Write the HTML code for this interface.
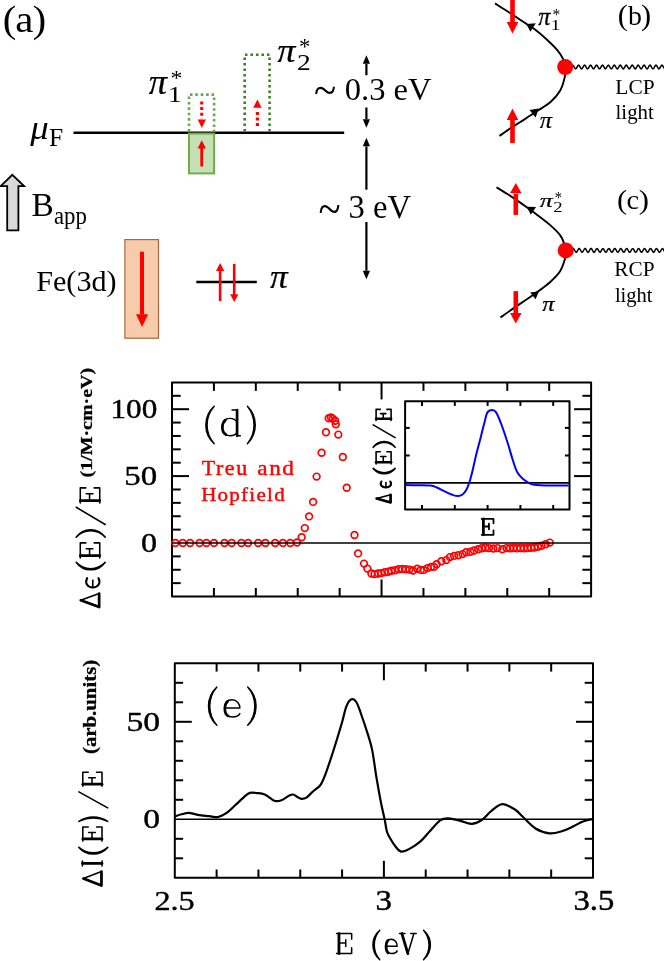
<!DOCTYPE html>
<html><head><meta charset="utf-8"><style>html,body{margin:0;padding:0;background:#fff;}svg{display:block;will-change:transform;}</style></head>
<body><svg width="664" height="961" viewBox="0 0 664 961">
<rect width="664" height="961" fill="#fff"/>
<line x1="73.50" y1="132.70" x2="344.20" y2="132.70" stroke="#000" stroke-width="2.4" />
<path d="M189,131.5 V94.6 H214.1 V131.5" fill="none" stroke="#6aa84f" stroke-width="2.6" stroke-dasharray="2.6 2.8"/>
<path d="M244.7,131.5 V54.7 H269.6 V131.5" fill="none" stroke="#3f7f24" stroke-width="2.6" stroke-dasharray="2.6 2.9"/>
<rect x="189" y="133.6" width="25.1" height="39.8" fill="#c5e0b4" stroke="#70ad47" stroke-width="2"/>
<line x1="201.70" y1="101.50" x2="201.70" y2="118.50" stroke="#ff0000" stroke-width="3" stroke-dasharray="3 2.6"/>
<polygon points="197.70,119.60 205.90,119.60 201.80,127.90" fill="#ff0000"/>
<line x1="201.70" y1="147.00" x2="201.70" y2="166.50" stroke="#ff0000" stroke-width="2.8" />
<polygon points="197.60,148.60 205.90,148.60 201.75,140.30" fill="#ff0000"/>
<line x1="257.40" y1="112.10" x2="257.40" y2="126.00" stroke="#ff0000" stroke-width="3.2" stroke-dasharray="2.8 2.7"/>
<polygon points="253.20,107.80 261.60,107.80 257.40,99.40" fill="#ff0000"/>
<line x1="366.40" y1="75.20" x2="366.40" y2="63.80" stroke="#000" stroke-width="2.2" /><polygon points="362.80,63.80 370.00,63.80 366.40,55.30" fill="#000"/>
<line x1="366.40" y1="107.50" x2="366.40" y2="119.20" stroke="#000" stroke-width="2.2" /><polygon points="362.80,119.20 370.00,119.20 366.40,127.70" fill="#000"/>
<line x1="366.40" y1="189.70" x2="366.40" y2="146.30" stroke="#000" stroke-width="2.2" /><polygon points="362.80,146.30 370.00,146.30 366.40,137.80" fill="#000"/>
<line x1="366.40" y1="222.00" x2="366.40" y2="270.70" stroke="#000" stroke-width="2.2" /><polygon points="362.80,270.70 370.00,270.70 366.40,279.20" fill="#000"/>
<path d="M7.2,230.4 V186.1 H0.7 L12.3,174.8 L24.1,186.1 H18.4 V230.4 Z" fill="#d9d9d9" stroke="#000" stroke-width="1.8" stroke-linejoin="miter"/>
<rect x="124.9" y="239.6" width="33.6" height="98.6" fill="#f8cbad" stroke="#a5683e" stroke-width="1.2"/>
<line x1="142.00" y1="251.70" x2="142.00" y2="314.50" stroke="#ff0000" stroke-width="4.0" />
<polygon points="136.00,314.30 148.10,314.30 142.05,326.90" fill="#ff0000"/>
<line x1="196.30" y1="282.00" x2="256.80" y2="282.00" stroke="#000" stroke-width="2.4" />
<line x1="220.10" y1="270.00" x2="220.10" y2="301.10" stroke="#ff0000" stroke-width="2.6" />
<polygon points="216.00,270.90 224.30,270.90 220.15,263.10" fill="#ff0000"/>
<line x1="234.20" y1="263.90" x2="234.20" y2="295.00" stroke="#ff0000" stroke-width="2.6" />
<polygon points="230.10,294.20 238.40,294.20 234.25,301.90" fill="#ff0000"/>
<path d="M495.00,3.40 C496.67,4.47 501.67,7.65 505.00,9.80 C508.33,11.95 511.45,13.97 515.00,16.30 C518.55,18.63 522.97,21.58 526.30,23.80 C529.63,26.02 531.68,27.07 535.00,29.60 C538.32,32.13 542.52,35.62 546.20,39.00 C549.88,42.38 554.25,46.52 557.10,49.90 C559.95,53.28 561.95,56.45 563.30,59.30 C564.65,62.15 564.88,65.72 565.20,67.00" fill="none" stroke="#000" stroke-width="1.9"/>
<path d="M565.20,67.00 C565.15,68.57 565.73,72.48 564.90,76.40 C564.07,80.32 562.55,86.27 560.20,90.50 C557.85,94.73 554.37,98.55 550.80,101.80 C547.23,105.05 542.35,107.63 538.80,110.00 C535.25,112.37 532.63,113.95 529.50,116.00 C526.37,118.05 523.25,120.22 520.00,122.30 C516.75,124.38 513.42,126.23 510.00,128.50 C506.58,130.77 501.25,134.67 499.50,135.90" fill="none" stroke="#000" stroke-width="1.9"/>
<polygon points="526.30,24.00 535.80,23.30 530.40,31.70" fill="#000"/>
<polygon points="538.80,108.60 529.50,109.90 535.60,117.40" fill="#000"/>
<path d="M571.20,67.00 L571.95,65.65 L572.69,65.10 L573.44,65.67 L574.19,67.02 L574.93,68.36 L575.68,68.90 L576.43,68.32 L577.17,66.96 L577.92,65.62 L578.66,65.10 L579.41,65.70 L580.16,67.07 L580.90,68.39 L581.65,68.90 L582.40,68.28 L583.14,66.91 L583.89,65.59 L584.64,65.10 L585.38,65.73 L586.13,67.11 L586.88,68.42 L587.62,68.90 L588.37,68.25 L589.11,66.87 L589.86,65.56 L590.61,65.11 L591.35,65.76 L592.10,67.15 L592.85,68.45 L593.59,68.89 L594.34,68.22 L595.09,66.83 L595.83,65.54 L596.58,65.11 L597.33,65.80 L598.07,67.20 L598.82,68.48 L599.57,68.89 L600.31,68.19 L601.06,66.78 L601.80,65.51 L602.55,65.11 L603.30,65.83 L604.04,67.24 L604.79,68.50 L605.54,68.88 L606.28,68.15 L607.03,66.74 L607.78,65.48 L608.52,65.12 L609.27,65.87 L610.02,67.28 L610.76,68.53 L611.51,68.88 L612.26,68.12 L613.00,66.70 L613.75,65.46 L614.49,65.13 L615.24,65.90 L615.99,67.32 L616.73,68.56 L617.48,68.87 L618.23,68.08 L618.97,66.65 L619.72,65.43 L620.47,65.13 L621.21,65.94 L621.96,67.37 L622.71,68.58 L623.45,68.86 L624.20,68.05 L624.94,66.61 L625.69,65.41 L626.44,65.14 L627.18,65.97 L627.93,67.41 L628.68,68.60 L629.42,68.85 L630.17,68.01 L630.92,66.57 L631.66,65.38 L632.41,65.15 L633.16,66.01 L633.90,67.45 L634.65,68.63 L635.40,68.84 L636.14,67.97 L636.89,66.53 L637.63,65.36 L638.38,65.16 L639.13,66.05 L639.87,67.49 L640.62,68.65 L641.37,68.83 L642.11,67.93 L642.86,66.49 L643.61,65.34 L644.35,65.17 L645.10,66.09 L645.85,67.54 L646.59,68.67 L647.34,68.82 L648.09,67.90 L648.83,66.44 L649.58,65.32 L650.32,65.19 L651.07,66.12 L651.82,67.58 L652.56,68.69 L653.31,68.81 L654.06,67.86 L654.80,66.40 L655.55,65.30 L656.30,65.20 L657.04,66.16 L657.79,67.62 L658.54,68.71 L659.28,68.79 L660.03,67.82 L660.77,66.36 L661.52,65.28 L662.27,65.21 L663.01,66.20 L663.76,67.66 L664.51,68.73 L665.25,68.78 L666.00,67.78" fill="none" stroke="#000" stroke-width="1.5"/>
<circle cx="565.2" cy="67.0" r="8" fill="#ff0000"/>
<rect x="510.20" y="-1.00" width="4.6" height="23.50" fill="#ff0000"/>
<polygon points="506.70,22.10 518.30,22.10 512.50,33.40" fill="#ff0000"/>
<rect x="510.20" y="119.50" width="4.6" height="23.50" fill="#ff0000"/>
<polygon points="506.70,120.10 518.30,120.10 512.50,108.40" fill="#ff0000"/>
<path d="M496.50,187.30 C498.25,188.38 503.47,191.53 507.00,193.80 C510.53,196.07 514.42,198.67 517.70,200.90 C520.98,203.13 523.65,205.02 526.70,207.20 C529.75,209.38 532.13,211.05 536.00,214.00 C539.87,216.95 545.92,221.42 549.90,224.90 C553.88,228.38 557.55,231.85 559.90,234.90 C562.25,237.95 563.03,240.62 564.00,243.20 C564.97,245.78 565.42,249.20 565.70,250.40" fill="none" stroke="#000" stroke-width="1.9"/>
<path d="M565.70,250.40 C565.57,251.83 565.87,255.48 564.90,259.00 C563.93,262.52 562.40,267.62 559.90,271.50 C557.40,275.38 553.38,279.08 549.90,282.30 C546.42,285.52 542.28,288.35 539.00,290.80 C535.72,293.25 533.37,294.82 530.20,297.00 C527.03,299.18 523.37,301.62 520.00,303.90 C516.63,306.18 513.25,308.43 510.00,310.70 C506.75,312.97 502.08,316.37 500.50,317.50" fill="none" stroke="#000" stroke-width="1.9"/>
<polygon points="526.70,206.80 536.00,207.00 530.80,214.70" fill="#000"/>
<polygon points="539.00,291.30 530.20,292.40 535.60,299.20" fill="#000"/>
<path d="M571.70,250.40 L572.45,249.05 L573.20,248.50 L573.95,249.08 L574.69,250.44 L575.44,251.78 L576.19,252.30 L576.94,251.70 L577.69,250.33 L578.44,249.00 L579.18,248.50 L579.93,249.13 L580.68,250.51 L581.43,251.83 L582.18,252.30 L582.93,251.64 L583.67,250.25 L584.42,248.95 L585.17,248.51 L585.92,249.19 L586.67,250.59 L587.42,251.87 L588.17,252.29 L588.91,251.58 L589.66,250.18 L590.41,248.90 L591.16,248.52 L591.91,249.25 L592.66,250.66 L593.40,251.92 L594.15,252.28 L594.90,251.52 L595.65,250.10 L596.40,248.86 L597.15,248.53 L597.89,249.31 L598.64,250.74 L599.39,251.96 L600.14,252.27 L600.89,251.46 L601.64,250.03 L602.38,248.81 L603.13,248.54 L603.88,249.37 L604.63,250.81 L605.38,252.01 L606.13,252.25 L606.88,251.40 L607.62,249.96 L608.37,248.77 L609.12,248.56 L609.87,249.43 L610.62,250.88 L611.37,252.04 L612.11,252.23 L612.86,251.34 L613.61,249.88 L614.36,248.74 L615.11,248.58 L615.86,249.50 L616.60,250.95 L617.35,252.08 L618.10,252.21 L618.85,251.27 L619.60,249.81 L620.35,248.70 L621.10,248.60 L621.84,249.56 L622.59,251.02 L623.34,252.11 L624.09,252.19 L624.84,251.20 L625.59,249.74 L626.33,248.67 L627.08,248.62 L627.83,249.63 L628.58,251.09 L629.33,252.15 L630.08,252.16 L630.82,251.13 L631.57,249.67 L632.32,248.64 L633.07,248.65 L633.82,249.70 L634.57,251.16 L635.32,252.17 L636.06,252.13 L636.81,251.06 L637.56,249.60 L638.31,248.61 L639.06,248.68 L639.81,249.77 L640.55,251.23 L641.30,252.20 L642.05,252.10 L642.80,250.99 L643.55,249.53 L644.30,248.59 L645.04,248.72 L645.79,249.84 L646.54,251.30 L647.29,252.22 L648.04,252.07 L648.79,250.92 L649.53,249.47 L650.28,248.57 L651.03,248.75 L651.78,249.91 L652.53,251.36 L653.28,252.24 L654.03,252.03 L654.77,250.85 L655.52,249.40 L656.27,248.55 L657.02,248.79 L657.77,249.99 L658.52,251.43 L659.26,252.26 L660.01,251.99 L660.76,250.78 L661.51,249.34 L662.26,248.53 L663.01,248.83 L663.75,250.06 L664.50,251.49 L665.25,252.27 L666.00,251.95" fill="none" stroke="#000" stroke-width="1.5"/>
<circle cx="565.7" cy="250.4" r="8" fill="#ff0000"/>
<rect x="513.50" y="193.80" width="4.6" height="21.10" fill="#ff0000"/>
<polygon points="510.00,193.30 521.60,193.30 515.80,183.00" fill="#ff0000"/>
<rect x="513.50" y="291.10" width="4.6" height="22.50" fill="#ff0000"/>
<polygon points="510.00,313.10 521.60,313.10 515.80,323.40" fill="#ff0000"/>
<rect x="172.0" y="382.4" width="419.10" height="214.10" fill="none" stroke="#000" stroke-width="2" stroke-linejoin="round"/>
<line x1="213.91" y1="596.50" x2="213.91" y2="588.00" stroke="#000" stroke-width="2" />
<line x1="213.91" y1="382.40" x2="213.91" y2="390.90" stroke="#000" stroke-width="2" />
<line x1="255.82" y1="596.50" x2="255.82" y2="588.00" stroke="#000" stroke-width="2" />
<line x1="255.82" y1="382.40" x2="255.82" y2="390.90" stroke="#000" stroke-width="2" />
<line x1="297.73" y1="596.50" x2="297.73" y2="588.00" stroke="#000" stroke-width="2" />
<line x1="297.73" y1="382.40" x2="297.73" y2="390.90" stroke="#000" stroke-width="2" />
<line x1="339.64" y1="596.50" x2="339.64" y2="588.00" stroke="#000" stroke-width="2" />
<line x1="339.64" y1="382.40" x2="339.64" y2="390.90" stroke="#000" stroke-width="2" />
<line x1="381.55" y1="596.50" x2="381.55" y2="579.50" stroke="#000" stroke-width="2" />
<line x1="381.55" y1="382.40" x2="381.55" y2="399.40" stroke="#000" stroke-width="2" />
<line x1="423.46" y1="596.50" x2="423.46" y2="588.00" stroke="#000" stroke-width="2" />
<line x1="423.46" y1="382.40" x2="423.46" y2="390.90" stroke="#000" stroke-width="2" />
<line x1="465.37" y1="596.50" x2="465.37" y2="588.00" stroke="#000" stroke-width="2" />
<line x1="465.37" y1="382.40" x2="465.37" y2="390.90" stroke="#000" stroke-width="2" />
<line x1="507.28" y1="596.50" x2="507.28" y2="588.00" stroke="#000" stroke-width="2" />
<line x1="507.28" y1="382.40" x2="507.28" y2="390.90" stroke="#000" stroke-width="2" />
<line x1="549.19" y1="596.50" x2="549.19" y2="588.00" stroke="#000" stroke-width="2" />
<line x1="549.19" y1="382.40" x2="549.19" y2="390.90" stroke="#000" stroke-width="2" />
<line x1="172.00" y1="583.14" x2="180.70" y2="583.14" stroke="#000" stroke-width="2" />
<line x1="591.10" y1="583.14" x2="582.40" y2="583.14" stroke="#000" stroke-width="2" />
<line x1="172.00" y1="569.76" x2="180.70" y2="569.76" stroke="#000" stroke-width="2" />
<line x1="591.10" y1="569.76" x2="582.40" y2="569.76" stroke="#000" stroke-width="2" />
<line x1="172.00" y1="556.38" x2="180.70" y2="556.38" stroke="#000" stroke-width="2" />
<line x1="591.10" y1="556.38" x2="582.40" y2="556.38" stroke="#000" stroke-width="2" />
<line x1="172.00" y1="529.62" x2="180.70" y2="529.62" stroke="#000" stroke-width="2" />
<line x1="591.10" y1="529.62" x2="582.40" y2="529.62" stroke="#000" stroke-width="2" />
<line x1="172.00" y1="516.24" x2="180.70" y2="516.24" stroke="#000" stroke-width="2" />
<line x1="591.10" y1="516.24" x2="582.40" y2="516.24" stroke="#000" stroke-width="2" />
<line x1="172.00" y1="502.86" x2="180.70" y2="502.86" stroke="#000" stroke-width="2" />
<line x1="591.10" y1="502.86" x2="582.40" y2="502.86" stroke="#000" stroke-width="2" />
<line x1="172.00" y1="489.48" x2="180.70" y2="489.48" stroke="#000" stroke-width="2" />
<line x1="591.10" y1="489.48" x2="582.40" y2="489.48" stroke="#000" stroke-width="2" />
<line x1="172.00" y1="476.09" x2="189.00" y2="476.09" stroke="#000" stroke-width="2" />
<line x1="591.10" y1="476.09" x2="574.10" y2="476.09" stroke="#000" stroke-width="2" />
<line x1="172.00" y1="462.71" x2="180.70" y2="462.71" stroke="#000" stroke-width="2" />
<line x1="591.10" y1="462.71" x2="582.40" y2="462.71" stroke="#000" stroke-width="2" />
<line x1="172.00" y1="449.33" x2="180.70" y2="449.33" stroke="#000" stroke-width="2" />
<line x1="591.10" y1="449.33" x2="582.40" y2="449.33" stroke="#000" stroke-width="2" />
<line x1="172.00" y1="435.95" x2="180.70" y2="435.95" stroke="#000" stroke-width="2" />
<line x1="591.10" y1="435.95" x2="582.40" y2="435.95" stroke="#000" stroke-width="2" />
<line x1="172.00" y1="422.57" x2="180.70" y2="422.57" stroke="#000" stroke-width="2" />
<line x1="591.10" y1="422.57" x2="582.40" y2="422.57" stroke="#000" stroke-width="2" />
<line x1="172.00" y1="409.19" x2="189.00" y2="409.19" stroke="#000" stroke-width="2" />
<line x1="591.10" y1="409.19" x2="574.10" y2="409.19" stroke="#000" stroke-width="2" />
<line x1="172.00" y1="395.81" x2="180.70" y2="395.81" stroke="#000" stroke-width="2" />
<line x1="591.10" y1="395.81" x2="582.40" y2="395.81" stroke="#000" stroke-width="2" />
<rect x="405.1" y="401.3" width="164.40" height="108.30" fill="none" stroke="#000" stroke-width="2" stroke-linejoin="round"/>
<line x1="422.00" y1="401.30" x2="422.00" y2="405.90" stroke="#000" stroke-width="2" />
<line x1="422.00" y1="509.60" x2="422.00" y2="505.00" stroke="#000" stroke-width="2" />
<line x1="454.80" y1="401.30" x2="454.80" y2="405.90" stroke="#000" stroke-width="2" />
<line x1="454.80" y1="509.60" x2="454.80" y2="505.00" stroke="#000" stroke-width="2" />
<line x1="487.60" y1="401.30" x2="487.60" y2="405.90" stroke="#000" stroke-width="2" />
<line x1="487.60" y1="509.60" x2="487.60" y2="505.00" stroke="#000" stroke-width="2" />
<line x1="520.40" y1="401.30" x2="520.40" y2="405.90" stroke="#000" stroke-width="2" />
<line x1="520.40" y1="509.60" x2="520.40" y2="505.00" stroke="#000" stroke-width="2" />
<line x1="553.20" y1="401.30" x2="553.20" y2="405.90" stroke="#000" stroke-width="2" />
<line x1="553.20" y1="509.60" x2="553.20" y2="505.00" stroke="#000" stroke-width="2" />
<line x1="405.10" y1="427.90" x2="409.70" y2="427.90" stroke="#000" stroke-width="2" />
<line x1="569.50" y1="427.90" x2="564.90" y2="427.90" stroke="#000" stroke-width="2" />
<line x1="405.10" y1="455.50" x2="409.70" y2="455.50" stroke="#000" stroke-width="2" />
<line x1="569.50" y1="455.50" x2="564.90" y2="455.50" stroke="#000" stroke-width="2" />
<line x1="405.10" y1="482.80" x2="569.50" y2="482.80" stroke="#000" stroke-width="1.7" />
<path d="M405.10,485.10 C407.25,485.12 413.75,485.13 418.00,485.20 C422.25,485.27 427.47,485.12 430.60,485.50 C433.73,485.88 434.47,486.52 436.80,487.50 C439.13,488.48 442.00,490.18 444.60,491.40 C447.20,492.62 450.18,494.02 452.40,494.80 C454.62,495.58 456.22,496.15 457.90,496.10 C459.58,496.05 461.08,495.55 462.50,494.50 C463.92,493.45 465.23,491.88 466.40,489.80 C467.57,487.72 468.47,485.22 469.50,482.00 C470.53,478.78 471.52,474.92 472.60,470.50 C473.68,466.08 474.85,460.25 476.00,455.50 C477.15,450.75 478.13,447.33 479.50,442.00 C480.87,436.67 482.88,428.40 484.20,423.50 C485.52,418.60 486.08,414.85 487.40,412.60 C488.72,410.35 490.65,410.03 492.10,410.00 C493.55,409.97 494.52,409.90 496.10,412.40 C497.68,414.90 499.62,419.73 501.60,425.00 C503.58,430.27 506.15,438.20 508.00,444.00 C509.85,449.80 511.13,455.05 512.70,459.80 C514.27,464.55 515.55,469.20 517.40,472.50 C519.25,475.80 521.68,477.75 523.80,479.60 C525.92,481.45 528.00,482.68 530.10,483.60 C532.20,484.52 533.23,484.80 536.40,485.10 C539.57,485.40 543.73,485.35 549.10,485.40 C554.47,485.45 565.35,485.40 568.60,485.40" fill="none" stroke="#0000ff" stroke-width="2"/>
<circle cx="175.4" cy="543" r="3.35" fill="none" stroke="#ff0000" stroke-width="1.7"/>
<circle cx="182.8" cy="543" r="3.35" fill="none" stroke="#ff0000" stroke-width="1.7"/>
<circle cx="190.1" cy="543" r="3.35" fill="none" stroke="#ff0000" stroke-width="1.7"/>
<circle cx="199.6" cy="543" r="3.35" fill="none" stroke="#ff0000" stroke-width="1.7"/>
<circle cx="206.4" cy="543" r="3.35" fill="none" stroke="#ff0000" stroke-width="1.7"/>
<circle cx="214.0" cy="543" r="3.35" fill="none" stroke="#ff0000" stroke-width="1.7"/>
<circle cx="224.5" cy="543" r="3.35" fill="none" stroke="#ff0000" stroke-width="1.7"/>
<circle cx="231.7" cy="543" r="3.35" fill="none" stroke="#ff0000" stroke-width="1.7"/>
<circle cx="241.4" cy="543" r="3.35" fill="none" stroke="#ff0000" stroke-width="1.7"/>
<circle cx="248.1" cy="543" r="3.35" fill="none" stroke="#ff0000" stroke-width="1.7"/>
<circle cx="258.2" cy="543" r="3.35" fill="none" stroke="#ff0000" stroke-width="1.7"/>
<circle cx="265.4" cy="543" r="3.35" fill="none" stroke="#ff0000" stroke-width="1.7"/>
<circle cx="275.1" cy="543" r="3.35" fill="none" stroke="#ff0000" stroke-width="1.7"/>
<circle cx="282.9" cy="543" r="3.35" fill="none" stroke="#ff0000" stroke-width="1.7"/>
<circle cx="290.3" cy="543" r="3.35" fill="none" stroke="#ff0000" stroke-width="1.7"/>
<circle cx="297.0" cy="542.5" r="3.35" fill="none" stroke="#ff0000" stroke-width="1.7"/>
<circle cx="301.7" cy="537.2" r="3.35" fill="none" stroke="#ff0000" stroke-width="1.7"/>
<circle cx="304.8" cy="528.1" r="3.35" fill="none" stroke="#ff0000" stroke-width="1.7"/>
<circle cx="309.1" cy="516.4" r="3.35" fill="none" stroke="#ff0000" stroke-width="1.7"/>
<circle cx="313.1" cy="501.9" r="3.35" fill="none" stroke="#ff0000" stroke-width="1.7"/>
<circle cx="316.6" cy="476.6" r="3.35" fill="none" stroke="#ff0000" stroke-width="1.7"/>
<circle cx="321.6" cy="452.8" r="3.35" fill="none" stroke="#ff0000" stroke-width="1.7"/>
<circle cx="326.0" cy="432.3" r="3.35" fill="none" stroke="#ff0000" stroke-width="1.7"/>
<circle cx="328.7" cy="418.2" r="3.35" fill="none" stroke="#ff0000" stroke-width="1.7"/>
<circle cx="330.9" cy="417.4" r="3.35" fill="none" stroke="#ff0000" stroke-width="1.7"/>
<circle cx="332.8" cy="418.6" r="3.35" fill="none" stroke="#ff0000" stroke-width="1.7"/>
<circle cx="335.1" cy="420.8" r="3.35" fill="none" stroke="#ff0000" stroke-width="1.7"/>
<circle cx="335.8" cy="424.2" r="3.35" fill="none" stroke="#ff0000" stroke-width="1.7"/>
<circle cx="338.3" cy="434.6" r="3.35" fill="none" stroke="#ff0000" stroke-width="1.7"/>
<circle cx="342.8" cy="457.0" r="3.35" fill="none" stroke="#ff0000" stroke-width="1.7"/>
<circle cx="346.7" cy="487.8" r="3.35" fill="none" stroke="#ff0000" stroke-width="1.7"/>
<circle cx="354.5" cy="535.0" r="3.35" fill="none" stroke="#ff0000" stroke-width="1.7"/>
<circle cx="358.1" cy="553.4" r="3.35" fill="none" stroke="#ff0000" stroke-width="1.7"/>
<circle cx="364.0" cy="563.6" r="3.35" fill="none" stroke="#ff0000" stroke-width="1.7"/>
<circle cx="367.4" cy="568.6" r="3.35" fill="none" stroke="#ff0000" stroke-width="1.7"/>
<circle cx="371.4" cy="573.5" r="3.35" fill="none" stroke="#ff0000" stroke-width="1.7"/>
<circle cx="374.5" cy="574.1" r="3.35" fill="none" stroke="#ff0000" stroke-width="1.7"/>
<circle cx="378.1" cy="573.5" r="3.35" fill="none" stroke="#ff0000" stroke-width="1.7"/>
<circle cx="381.1" cy="573.1" r="3.35" fill="none" stroke="#ff0000" stroke-width="1.7"/>
<circle cx="384.7" cy="572.3" r="3.35" fill="none" stroke="#ff0000" stroke-width="1.7"/>
<circle cx="388.3" cy="571.7" r="3.35" fill="none" stroke="#ff0000" stroke-width="1.7"/>
<circle cx="391.3" cy="570.7" r="3.35" fill="none" stroke="#ff0000" stroke-width="1.7"/>
<circle cx="394.9" cy="570.2" r="3.35" fill="none" stroke="#ff0000" stroke-width="1.7"/>
<circle cx="398.6" cy="569.3" r="3.35" fill="none" stroke="#ff0000" stroke-width="1.7"/>
<circle cx="402.2" cy="569.0" r="3.35" fill="none" stroke="#ff0000" stroke-width="1.7"/>
<circle cx="405.8" cy="569.3" r="3.35" fill="none" stroke="#ff0000" stroke-width="1.7"/>
<circle cx="409.4" cy="569.6" r="3.35" fill="none" stroke="#ff0000" stroke-width="1.7"/>
<circle cx="413.0" cy="570.5" r="3.35" fill="none" stroke="#ff0000" stroke-width="1.7"/>
<circle cx="417.2" cy="568.7" r="3.35" fill="none" stroke="#ff0000" stroke-width="1.7"/>
<circle cx="420.8" cy="569.9" r="3.35" fill="none" stroke="#ff0000" stroke-width="1.7"/>
<circle cx="423.9" cy="569.9" r="3.35" fill="none" stroke="#ff0000" stroke-width="1.7"/>
<circle cx="427.5" cy="568.1" r="3.35" fill="none" stroke="#ff0000" stroke-width="1.7"/>
<circle cx="431.1" cy="566.9" r="3.35" fill="none" stroke="#ff0000" stroke-width="1.7"/>
<circle cx="434.1" cy="566.9" r="3.35" fill="none" stroke="#ff0000" stroke-width="1.7"/>
<circle cx="436.6" cy="564.3" r="3.35" fill="none" stroke="#ff0000" stroke-width="1.7"/>
<circle cx="441.4" cy="561.3" r="3.35" fill="none" stroke="#ff0000" stroke-width="1.7"/>
<circle cx="446.3" cy="560.1" r="3.35" fill="none" stroke="#ff0000" stroke-width="1.7"/>
<circle cx="449.9" cy="557.1" r="3.35" fill="none" stroke="#ff0000" stroke-width="1.7"/>
<circle cx="454.1" cy="555.9" r="3.35" fill="none" stroke="#ff0000" stroke-width="1.7"/>
<circle cx="458.3" cy="555.3" r="3.35" fill="none" stroke="#ff0000" stroke-width="1.7"/>
<circle cx="462.5" cy="554.1" r="3.35" fill="none" stroke="#ff0000" stroke-width="1.7"/>
<circle cx="466.1" cy="552.3" r="3.35" fill="none" stroke="#ff0000" stroke-width="1.7"/>
<circle cx="470.4" cy="551.7" r="3.35" fill="none" stroke="#ff0000" stroke-width="1.7"/>
<circle cx="474.0" cy="550.5" r="3.35" fill="none" stroke="#ff0000" stroke-width="1.7"/>
<circle cx="478.2" cy="549.3" r="3.35" fill="none" stroke="#ff0000" stroke-width="1.7"/>
<circle cx="481.8" cy="548.3" r="3.35" fill="none" stroke="#ff0000" stroke-width="1.7"/>
<circle cx="485.4" cy="547.8" r="3.35" fill="none" stroke="#ff0000" stroke-width="1.7"/>
<circle cx="489.0" cy="548.1" r="3.35" fill="none" stroke="#ff0000" stroke-width="1.7"/>
<circle cx="493.3" cy="548.5" r="3.35" fill="none" stroke="#ff0000" stroke-width="1.7"/>
<circle cx="497.5" cy="548.1" r="3.35" fill="none" stroke="#ff0000" stroke-width="1.7"/>
<circle cx="502.3" cy="549.3" r="3.35" fill="none" stroke="#ff0000" stroke-width="1.7"/>
<circle cx="506.5" cy="548.1" r="3.35" fill="none" stroke="#ff0000" stroke-width="1.7"/>
<circle cx="510.0" cy="548.3" r="3.35" fill="none" stroke="#ff0000" stroke-width="1.7"/>
<circle cx="513.5" cy="548.0" r="3.35" fill="none" stroke="#ff0000" stroke-width="1.7"/>
<circle cx="517.0" cy="548.3" r="3.35" fill="none" stroke="#ff0000" stroke-width="1.7"/>
<circle cx="520.5" cy="548.0" r="3.35" fill="none" stroke="#ff0000" stroke-width="1.7"/>
<circle cx="524.0" cy="548.2" r="3.35" fill="none" stroke="#ff0000" stroke-width="1.7"/>
<circle cx="527.5" cy="548.0" r="3.35" fill="none" stroke="#ff0000" stroke-width="1.7"/>
<circle cx="531.0" cy="547.8" r="3.35" fill="none" stroke="#ff0000" stroke-width="1.7"/>
<circle cx="534.5" cy="547.5" r="3.35" fill="none" stroke="#ff0000" stroke-width="1.7"/>
<circle cx="538.0" cy="546.8" r="3.35" fill="none" stroke="#ff0000" stroke-width="1.7"/>
<circle cx="541.4" cy="545.8" r="3.35" fill="none" stroke="#ff0000" stroke-width="1.7"/>
<circle cx="545.6" cy="544.2" r="3.35" fill="none" stroke="#ff0000" stroke-width="1.7"/>
<circle cx="549.8" cy="542.6" r="3.35" fill="none" stroke="#ff0000" stroke-width="1.7"/>
<line x1="172.00" y1="543.00" x2="591.10" y2="543.00" stroke="#000" stroke-width="1.7" />
<rect x="174.8" y="663.3" width="418.20" height="214.50" fill="none" stroke="#000" stroke-width="2" stroke-linejoin="round"/>
<line x1="216.62" y1="877.80" x2="216.62" y2="869.50" stroke="#000" stroke-width="2" />
<line x1="216.62" y1="663.30" x2="216.62" y2="671.60" stroke="#000" stroke-width="2" />
<line x1="258.44" y1="877.80" x2="258.44" y2="869.50" stroke="#000" stroke-width="2" />
<line x1="258.44" y1="663.30" x2="258.44" y2="671.60" stroke="#000" stroke-width="2" />
<line x1="300.26" y1="877.80" x2="300.26" y2="869.50" stroke="#000" stroke-width="2" />
<line x1="300.26" y1="663.30" x2="300.26" y2="671.60" stroke="#000" stroke-width="2" />
<line x1="342.08" y1="877.80" x2="342.08" y2="869.50" stroke="#000" stroke-width="2" />
<line x1="342.08" y1="663.30" x2="342.08" y2="671.60" stroke="#000" stroke-width="2" />
<line x1="383.90" y1="877.80" x2="383.90" y2="860.80" stroke="#000" stroke-width="2" />
<line x1="383.90" y1="663.30" x2="383.90" y2="680.30" stroke="#000" stroke-width="2" />
<line x1="425.72" y1="877.80" x2="425.72" y2="869.50" stroke="#000" stroke-width="2" />
<line x1="425.72" y1="663.30" x2="425.72" y2="671.60" stroke="#000" stroke-width="2" />
<line x1="467.54" y1="877.80" x2="467.54" y2="869.50" stroke="#000" stroke-width="2" />
<line x1="467.54" y1="663.30" x2="467.54" y2="671.60" stroke="#000" stroke-width="2" />
<line x1="509.36" y1="877.80" x2="509.36" y2="869.50" stroke="#000" stroke-width="2" />
<line x1="509.36" y1="663.30" x2="509.36" y2="671.60" stroke="#000" stroke-width="2" />
<line x1="551.18" y1="877.80" x2="551.18" y2="869.50" stroke="#000" stroke-width="2" />
<line x1="551.18" y1="663.30" x2="551.18" y2="671.60" stroke="#000" stroke-width="2" />
<line x1="174.80" y1="858.30" x2="183.10" y2="858.30" stroke="#000" stroke-width="2" />
<line x1="593.00" y1="858.30" x2="584.70" y2="858.30" stroke="#000" stroke-width="2" />
<line x1="174.80" y1="838.80" x2="183.10" y2="838.80" stroke="#000" stroke-width="2" />
<line x1="593.00" y1="838.80" x2="584.70" y2="838.80" stroke="#000" stroke-width="2" />
<line x1="174.80" y1="799.80" x2="183.10" y2="799.80" stroke="#000" stroke-width="2" />
<line x1="593.00" y1="799.80" x2="584.70" y2="799.80" stroke="#000" stroke-width="2" />
<line x1="174.80" y1="780.30" x2="183.10" y2="780.30" stroke="#000" stroke-width="2" />
<line x1="593.00" y1="780.30" x2="584.70" y2="780.30" stroke="#000" stroke-width="2" />
<line x1="174.80" y1="760.80" x2="183.10" y2="760.80" stroke="#000" stroke-width="2" />
<line x1="593.00" y1="760.80" x2="584.70" y2="760.80" stroke="#000" stroke-width="2" />
<line x1="174.80" y1="741.30" x2="183.10" y2="741.30" stroke="#000" stroke-width="2" />
<line x1="593.00" y1="741.30" x2="584.70" y2="741.30" stroke="#000" stroke-width="2" />
<line x1="174.80" y1="721.80" x2="191.80" y2="721.80" stroke="#000" stroke-width="2" />
<line x1="593.00" y1="721.80" x2="576.00" y2="721.80" stroke="#000" stroke-width="2" />
<line x1="174.80" y1="702.30" x2="183.10" y2="702.30" stroke="#000" stroke-width="2" />
<line x1="593.00" y1="702.30" x2="584.70" y2="702.30" stroke="#000" stroke-width="2" />
<line x1="174.80" y1="682.80" x2="183.10" y2="682.80" stroke="#000" stroke-width="2" />
<line x1="593.00" y1="682.80" x2="584.70" y2="682.80" stroke="#000" stroke-width="2" />
<line x1="174.80" y1="819.30" x2="593.00" y2="819.30" stroke="#000" stroke-width="1.6" />
<path d="M174.80,816.40 C175.92,816.05 179.20,814.88 181.50,814.30 C183.80,813.72 186.35,812.92 188.60,812.90 C190.85,812.88 192.88,813.78 195.00,814.20 C197.12,814.62 198.93,815.07 201.30,815.40 C203.67,815.73 206.58,815.90 209.20,816.20 C211.82,816.50 214.87,817.32 217.00,817.20 C219.13,817.08 220.05,816.48 222.00,815.50 C223.95,814.52 225.95,813.53 228.70,811.30 C231.45,809.07 235.87,804.55 238.50,802.10 C241.13,799.65 242.60,798.13 244.50,796.60 C246.40,795.07 247.60,793.47 249.90,792.90 C252.20,792.33 255.83,792.93 258.30,793.20 C260.77,793.47 262.75,793.72 264.70,794.50 C266.65,795.28 268.25,796.82 270.00,797.90 C271.75,798.98 273.28,800.62 275.20,801.00 C277.12,801.38 279.22,801.07 281.50,800.20 C283.78,799.33 286.97,796.75 288.90,795.80 C290.83,794.85 291.70,794.32 293.10,794.50 C294.50,794.68 295.88,796.17 297.30,796.90 C298.72,797.63 300.02,798.83 301.60,798.90 C303.18,798.97 304.87,798.58 306.80,797.30 C308.73,796.02 310.98,793.17 313.20,791.20 C315.42,789.23 318.22,787.92 320.10,785.50 C321.98,783.08 322.73,781.12 324.50,776.70 C326.27,772.28 328.63,765.20 330.70,759.00 C332.77,752.80 334.98,745.70 336.90,739.50 C338.82,733.30 340.62,727.33 342.20,721.80 C343.78,716.27 344.85,710.05 346.40,706.30 C347.95,702.55 349.85,700.02 351.50,699.30 C353.15,698.58 354.77,699.72 356.30,702.00 C357.83,704.28 358.78,707.63 360.70,713.00 C362.62,718.37 365.88,728.02 367.80,734.20 C369.72,740.38 370.73,742.73 372.20,750.10 C373.67,757.47 375.12,769.55 376.60,778.40 C378.08,787.25 379.77,796.42 381.10,803.20 C382.43,809.98 383.63,814.38 384.60,819.10 C385.57,823.82 385.93,828.22 386.90,831.50 C387.87,834.78 388.97,836.30 390.40,838.80 C391.83,841.30 393.72,844.37 395.50,846.50 C397.28,848.63 398.85,851.17 401.10,851.60 C403.35,852.03 405.77,850.82 409.00,849.10 C412.23,847.38 416.92,844.40 420.50,841.30 C424.08,838.20 427.17,834.02 430.50,830.50 C433.83,826.98 437.50,822.22 440.50,820.20 C443.50,818.18 445.32,818.33 448.50,818.40 C451.68,818.47 455.75,819.70 459.60,820.60 C463.45,821.50 467.92,823.90 471.60,823.80 C475.28,823.70 478.43,822.12 481.70,820.00 C484.97,817.88 487.77,813.73 491.20,811.10 C494.63,808.47 498.35,804.47 502.30,804.20 C506.25,803.93 511.48,807.40 514.90,809.50 C518.32,811.60 519.37,813.63 522.80,816.80 C526.23,819.97 531.02,825.75 535.50,828.50 C539.98,831.25 545.22,832.88 549.70,833.30 C554.18,833.72 558.45,832.17 562.40,831.00 C566.35,829.83 569.98,827.88 573.40,826.30 C576.82,824.72 579.63,822.72 582.90,821.50 C586.17,820.28 591.32,819.42 593.00,819.00" fill="none" stroke="#000" stroke-width="2.2" stroke-linejoin="round"/>
<text font-family="Liberation Serif" font-size="100" fill="#000" transform="matrix(0.4077 0.0000 0.0000 0.3889 2.8692 31.7333)">(</text>
<text font-family="Liberation Serif" font-size="100" fill="#000" transform="matrix(0.4077 0.0000 0.0000 0.3771 15.2692 31.6229)">a</text>
<text font-family="Liberation Serif" font-size="100" fill="#000" transform="matrix(0.4038 0.0000 0.0000 0.3889 32.6885 31.7333)">)</text>
<text font-family="Liberation Serif" font-size="100" font-style="italic" fill="#000" transform="matrix(0.3681 0.0000 0.0000 0.3313 30.3000 138.5418)">μ</text>
<text font-family="Liberation Serif" font-size="100" fill="#000" transform="matrix(0.2551 0.0000 0.0000 0.2492 49.0347 145.9000)">F</text>
<text font-family="Liberation Serif" font-size="100" font-style="italic" stroke="#000" stroke-width="0.25" vector-effect="non-scaling-stroke" stroke-linejoin="round" fill="#000" transform="matrix(0.3647 0.0000 0.0000 0.3553 148.6353 93.9447)">π</text>
<text font-family="Liberation Serif" font-size="100" fill="#000" transform="matrix(0.2829 0.0000 0.0000 0.2333 167.7543 101.6000)">1</text>
<text font-family="Liberation Serif" font-size="100" fill="#000" transform="matrix(0.2375 0.0000 0.0000 0.2028 170.4125 84.8806)">*</text>
<text font-family="Liberation Serif" font-size="100" font-style="italic" stroke="#000" stroke-width="0.25" vector-effect="non-scaling-stroke" stroke-linejoin="round" fill="#000" transform="matrix(0.3627 0.0000 0.0000 0.3447 277.1373 62.4553)">π</text>
<text font-family="Liberation Serif" font-size="100" fill="#000" transform="matrix(0.2750 0.0000 0.0000 0.2323 297.1000 69.9000)">2</text>
<text font-family="Liberation Serif" font-size="100" fill="#000" transform="matrix(0.2275 0.0000 0.0000 0.2389 298.9625 53.8278)">*</text>
<text font-family="Liberation Serif" font-size="100" fill="#000" transform="matrix(0.4104 0.0000 0.0000 0.4471 314.0688 105.3294)">~</text>
<text font-family="Liberation Serif" font-size="100" fill="#000" transform="matrix(0.3260 0.0000 0.0000 0.3239 344.6962 99.6522)">0.3 eV</text>
<text font-family="Liberation Serif" font-size="100" fill="#000" transform="matrix(0.4083 0.0000 0.0000 0.4588 318.5750 224.2118)">~</text>
<text font-family="Liberation Serif" font-size="100" fill="#000" transform="matrix(0.3263 0.0000 0.0000 0.3358 348.4683 218.4284)">3 eV</text>
<text font-family="Liberation Serif" font-size="100" fill="#000" transform="matrix(0.3339 0.0000 0.0000 0.3338 31.4983 216.1000)">B</text>
<text font-family="Liberation Serif" font-size="100" fill="#000" transform="matrix(0.2277 0.0000 0.0000 0.2500 53.9891 223.7500)">app</text>
<text font-family="Liberation Serif" font-size="100" fill="#000" transform="matrix(0.3015 0.0000 0.0000 0.2989 36.1954 291.2233)">Fe(3d)</text>
<text font-family="Liberation Serif" font-size="100" font-style="italic" stroke="#000" stroke-width="0.25" vector-effect="non-scaling-stroke" stroke-linejoin="round" fill="#000" transform="matrix(0.3529 0.0000 0.0000 0.3277 270.0471 287.5723)">π</text>
<text font-family="Liberation Serif" font-size="100" fill="#000" transform="matrix(0.3038 0.0000 0.0000 0.2856 617.7846 25.3033)">(</text>
<text font-family="Liberation Serif" font-size="100" fill="#000" transform="matrix(0.2783 0.0000 0.0000 0.2743 628.1000 25.3257)">b</text>
<text font-family="Liberation Serif" font-size="100" fill="#000" transform="matrix(0.3038 0.0000 0.0000 0.2856 641.0885 25.3033)">)</text>
<text font-family="Liberation Serif" font-size="100" font-style="italic" stroke="#000" stroke-width="0.25" vector-effect="non-scaling-stroke" stroke-linejoin="round" fill="#000" transform="matrix(0.2431 0.0000 0.0000 0.2489 538.1569 24.7511)">π</text>
<text font-family="Liberation Serif" font-size="100" fill="#000" transform="matrix(0.1550 0.0000 0.0000 0.1722 552.4250 19.7944)">*</text>
<text font-family="Liberation Serif" font-size="100" fill="#000" transform="matrix(0.2000 0.0000 0.0000 0.1409 550.6000 29.6000)">1</text>
<text font-family="Liberation Serif" font-size="100" font-style="italic" stroke="#000" stroke-width="0.25" vector-effect="non-scaling-stroke" stroke-linejoin="round" fill="#000" transform="matrix(0.2451 0.0000 0.0000 0.2319 539.6549 128.4681)">π</text>
<text font-family="Liberation Serif" font-size="100" fill="#000" transform="matrix(0.2142 0.0000 0.0000 0.2149 615.3574 94.2701)">LCP</text>
<text font-family="Liberation Serif" font-size="100" fill="#000" transform="matrix(0.2083 0.0000 0.0000 0.2144 615.5834 119.4967)">light</text>
<text font-family="Liberation Serif" font-size="100" fill="#000" transform="matrix(0.3038 0.0000 0.0000 0.2800 617.0846 208.8200)">(</text>
<text font-family="Liberation Serif" font-size="100" fill="#000" transform="matrix(0.2838 0.0000 0.0000 0.2750 626.5649 208.8250)">c</text>
<text font-family="Liberation Serif" font-size="100" fill="#000" transform="matrix(0.3077 0.0000 0.0000 0.2800 638.7769 208.8200)">)</text>
<text font-family="Liberation Serif" font-size="100" font-style="italic" stroke="#000" stroke-width="0.25" vector-effect="non-scaling-stroke" stroke-linejoin="round" fill="#000" transform="matrix(0.2608 0.0000 0.0000 0.1936 539.6392 207.2064)">π</text>
<text font-family="Liberation Serif" font-size="100" fill="#000" transform="matrix(0.1450 0.0000 0.0000 0.1611 554.6750 202.9722)">*</text>
<text font-family="Liberation Serif" font-size="100" fill="#000" transform="matrix(0.1875 0.0000 0.0000 0.1400 553.2500 212.4000)">2</text>
<text font-family="Liberation Serif" font-size="100" font-style="italic" stroke="#000" stroke-width="0.25" vector-effect="non-scaling-stroke" stroke-linejoin="round" fill="#000" transform="matrix(0.2451 0.0000 0.0000 0.2128 542.1549 311.1872)">π</text>
<text font-family="Liberation Serif" font-size="100" fill="#000" transform="matrix(0.2132 0.0000 0.0000 0.2075 614.2604 276.3851)">RCP</text>
<text font-family="Liberation Serif" font-size="100" fill="#000" transform="matrix(0.2055 0.0000 0.0000 0.2089 614.8890 301.8133)">light</text>
<text font-family="Liberation Serif" font-size="100" stroke="#000" stroke-width="0.45" vector-effect="non-scaling-stroke" stroke-linejoin="round" fill="#000" transform="matrix(0.3117 0.0000 0.0000 0.2750 110.4949 417.8500)">100</text>
<text font-family="Liberation Serif" font-size="100" stroke="#000" stroke-width="0.45" vector-effect="non-scaling-stroke" stroke-linejoin="round" fill="#000" transform="matrix(0.3289 0.0000 0.0000 0.2746 124.3267 484.9507)">50</text>
<text font-family="Liberation Serif" font-size="100" stroke="#000" stroke-width="0.45" vector-effect="non-scaling-stroke" stroke-linejoin="round" fill="#000" transform="matrix(0.3214 0.0000 0.0000 0.2761 141.1143 552.1478)">0</text>
<text font-family="Liberation Serif" font-size="100" letter-spacing="7" stroke="#ff0000" stroke-width="0.45" vector-effect="non-scaling-stroke" stroke-linejoin="round" fill="#ff0000" transform="matrix(0.2202 0.0000 0.0000 0.2136 201.7596 475.0864)">Treu</text>
<text font-family="Liberation Serif" font-size="100" letter-spacing="7" stroke="#ff0000" stroke-width="0.45" vector-effect="non-scaling-stroke" stroke-linejoin="round" fill="#ff0000" transform="matrix(0.2314 0.0000 0.0000 0.2014 257.2745 475.0986)">and</text>
<text font-family="Liberation Serif" font-size="100" letter-spacing="6" stroke="#ff0000" stroke-width="0.45" vector-effect="non-scaling-stroke" stroke-linejoin="round" fill="#ff0000" transform="matrix(0.2102 0.0000 0.0000 0.1978 201.1695 500.7457)">Hopfield</text>
<text font-family="Liberation Serif" font-size="100" font-weight="bold" stroke="#000" stroke-width="0.30" vector-effect="non-scaling-stroke" stroke-linejoin="round" fill="#000" transform="matrix(0.0000 -0.1996 0.1767 0.0000 92.4900 477.4985)">(1/M·cm·eV)</text>
<text font-family="Liberation Serif" font-size="100" stroke="#000" stroke-width="0.45" vector-effect="non-scaling-stroke" stroke-linejoin="round" fill="#000" transform="matrix(0.3367 0.0000 0.0000 0.2836 126.4800 730.8328)">50</text>
<text font-family="Liberation Serif" font-size="100" stroke="#000" stroke-width="0.45" vector-effect="non-scaling-stroke" stroke-linejoin="round" fill="#000" transform="matrix(0.3357 0.0000 0.0000 0.2716 143.3571 828.0567)">0</text>
<text font-family="Liberation Serif" font-size="100" font-weight="bold" stroke="#000" stroke-width="0.30" vector-effect="non-scaling-stroke" stroke-linejoin="round" fill="#000" transform="matrix(0.0000 -0.2081 0.1822 0.0000 95.6733 754.0324)">(arb.units)</text>
<text font-family="Liberation Serif" font-size="100" stroke="#000" stroke-width="0.45" vector-effect="non-scaling-stroke" stroke-linejoin="round" fill="#000" transform="matrix(0.3222 0.0000 0.0000 0.2742 154.4111 909.6258)">2.5</text>
<text font-family="Liberation Serif" font-size="100" stroke="#000" stroke-width="0.45" vector-effect="non-scaling-stroke" stroke-linejoin="round" fill="#000" transform="matrix(0.3293 0.0000 0.0000 0.2848 375.5537 909.8152)">3</text>
<text font-family="Liberation Serif" font-size="100" stroke="#000" stroke-width="0.45" vector-effect="non-scaling-stroke" stroke-linejoin="round" fill="#000" transform="matrix(0.3267 0.0000 0.0000 0.2864 573.4664 910.2136)">3.5</text>
<g transform="translate(205.10,405.60)" stroke="#000" stroke-linecap="round" stroke-linejoin="round"><path d="M9.08,0.72 A25.06,25.06 0 0 0 9.08,38.07 A28.11,28.11 0 0 1 9.08,0.72 Z" stroke-width="1.45" fill="#000"/></g>
<g transform="translate(221.00,409.30)" stroke="#000" stroke-linecap="round" stroke-linejoin="round"><path d="M16.08,0.72 V26.37" stroke-width="2.70" fill="none"/><path d="M11.05,0.72 H16.08 M16.08,26.37 H19.37" stroke-width="1.45" fill="none"/><path d="M16.08,13.01 C14.47,10.03 11.66,9.08 8.84,9.08 C3.62,9.08 1.35,12.74 1.35,18.02 C1.35,23.31 3.62,26.37 8.84,26.37 C11.66,26.37 14.47,26.02 16.08,23.03" stroke-width="1.45" fill="none"/><path d="M4.42,10.84 C2.01,12.74 1.35,15.18 1.35,18.02 C1.35,21.14 2.01,23.85 4.82,25.20" stroke-width="2.70" fill="none"/></g>
<g transform="translate(246.70,405.60)" stroke="#000" stroke-linecap="round" stroke-linejoin="round"><path d="M0.72,0.72 A26.14,26.14 0 0 1 0.72,38.07 A29.72,29.72 0 0 0 0.72,0.72 Z" stroke-width="1.45" fill="#000"/></g>
<g transform="matrix(0,-1,1,0,79.40,608.40)" stroke="#000" stroke-linecap="round" stroke-linejoin="round"><path d="M8.10,1.35 L14.85,19.75 H1.35 Z" stroke-width="1.55" fill="none"/><path d="M8.10,1.35 L1.35,19.75 H14.85" stroke-width="2.70" fill="none"/></g>
<g transform="matrix(0,-1,1,0,85.10,588.80)" stroke="#000" stroke-linecap="round" stroke-linejoin="round"><path d="M10.65,2.00 C5.40,-0.62 1.35,2.77 1.35,7.70 C1.35,12.63 5.40,16.02 10.65,13.40" stroke-width="2.12" fill="none"/><path d="M1.35,7.70 H8.64" stroke-width="1.55" fill="none"/></g>
<g transform="matrix(0,-1,1,0,75.40,570.60)" stroke="#000" stroke-linecap="round" stroke-linejoin="round"><path d="M8.33,0.78 A17.75,17.75 0 0 0 8.33,29.82 A19.68,19.68 0 0 1 8.33,0.78 Z" stroke-width="1.55" fill="#000"/></g>
<g transform="matrix(0,-1,1,0,79.50,558.80)" stroke="#000" stroke-linecap="round" stroke-linejoin="round"><path d="M3.17,0.78 V20.23" stroke-width="2.70" fill="none"/><path d="M0.78,0.78 H15.92 V6.30 M0.78,20.23 H15.92 V14.70 M3.17,10.08 H10.02 M10.02,6.72 V13.44" stroke-width="1.55" fill="none"/></g>
<g transform="matrix(0,-1,1,0,75.40,537.90)" stroke="#000" stroke-linecap="round" stroke-linejoin="round"><path d="M0.78,0.78 A17.88,17.88 0 0 1 0.78,29.82 A19.89,19.89 0 0 0 0.78,0.78 Z" stroke-width="1.55" fill="#000"/></g>
<g transform="matrix(0,-1,1,0,75.40,525.30)" stroke="#000" stroke-linecap="round" stroke-linejoin="round"><path d="M0.78,29.82 L18.02,0.78" stroke-width="1.55" fill="none"/></g>
<g transform="matrix(0,-1,1,0,79.50,503.80)" stroke="#000" stroke-linecap="round" stroke-linejoin="round"><path d="M3.17,0.78 V20.23" stroke-width="2.70" fill="none"/><path d="M0.78,0.78 H15.92 V6.30 M0.78,20.23 H15.92 V14.70 M3.17,10.08 H10.02 M10.02,6.72 V13.44" stroke-width="1.55" fill="none"/></g>
<g transform="matrix(0,-1,1,0,375.30,503.70)" stroke="#000" stroke-linecap="round" stroke-linejoin="round"><path d="M5.15,1.30 L9.00,15.30 H1.30 Z" stroke-width="1.60" fill="none"/><path d="M5.15,1.30 L1.30,15.30 H9.00" stroke-width="2.60" fill="none"/></g>
<g transform="matrix(0,-1,1,0,379.90,488.80)" stroke="#000" stroke-linecap="round" stroke-linejoin="round"><path d="M7.30,1.56 C3.87,-0.48 1.30,2.16 1.30,6.00 C1.30,9.84 3.87,12.48 7.30,10.44" stroke-width="2.10" fill="none"/><path d="M1.30,6.00 H6.19" stroke-width="1.60" fill="none"/></g>
<g transform="matrix(0,-1,1,0,372.40,474.50)" stroke="#000" stroke-linecap="round" stroke-linejoin="round"><path d="M6.10,0.80 A13.96,13.96 0 0 0 6.10,22.70 A16.09,16.09 0 0 1 6.10,0.80 Z" stroke-width="1.60" fill="#000"/></g>
<g transform="matrix(0,-1,1,0,375.30,464.80)" stroke="#000" stroke-linecap="round" stroke-linejoin="round"><path d="M2.62,0.80 V15.80" stroke-width="2.60" fill="none"/><path d="M0.80,0.80 H13.00 V4.98 M0.80,15.80 H13.00 V11.62 M2.62,7.97 H8.28 M8.28,5.31 V10.62" stroke-width="1.60" fill="none"/></g>
<g transform="matrix(0,-1,1,0,372.40,448.10)" stroke="#000" stroke-linecap="round" stroke-linejoin="round"><path d="M0.80,0.80 A13.24,13.24 0 0 1 0.80,22.70 A14.89,14.89 0 0 0 0.80,0.80 Z" stroke-width="1.60" fill="#000"/></g>
<g transform="matrix(0,-1,1,0,372.40,438.40)" stroke="#000" stroke-linecap="round" stroke-linejoin="round"><path d="M0.80,22.70 L13.50,0.80" stroke-width="1.60" fill="none"/></g>
<g transform="matrix(0,-1,1,0,375.30,421.20)" stroke="#000" stroke-linecap="round" stroke-linejoin="round"><path d="M2.39,0.80 V15.80" stroke-width="2.60" fill="none"/><path d="M0.80,0.80 H11.80 V4.98 M0.80,15.80 H11.80 V11.62 M2.39,7.97 H7.56 M7.56,5.31 V10.62" stroke-width="1.60" fill="none"/></g>
<g transform="translate(480.80,518.00)" stroke="#000" stroke-linecap="round" stroke-linejoin="round"><path d="M2.58,0.90 V16.80" stroke-width="2.80" fill="none"/><path d="M0.90,0.90 H12.70 V5.31 M0.90,16.80 H12.70 V12.39 M2.58,8.50 H8.16 M8.16,5.66 V11.33" stroke-width="1.80" fill="none"/></g>
<g transform="translate(207.80,686.40)" stroke="#000" stroke-linecap="round" stroke-linejoin="round"><path d="M9.07,0.72 A25.96,25.96 0 0 0 9.07,38.88 A29.17,29.17 0 0 1 9.07,0.72 Z" stroke-width="1.45" fill="#000"/></g>
<g transform="translate(223.50,699.10)" stroke="#000" stroke-linecap="round" stroke-linejoin="round"><path d="M1.35,8.93 H16.37 C16.37,4.46 13.00,0.72 8.55,0.72 C3.42,0.72 1.35,4.09 1.35,9.67 C1.35,14.88 3.76,17.88 9.06,17.88 C12.48,17.88 15.05,16.74 16.37,14.51" stroke-width="1.45" fill="none"/><path d="M4.10,2.23 C1.37,4.65 1.35,7.07 1.35,9.67 C1.35,13.02 1.71,15.25 4.45,16.74" stroke-width="2.70" fill="none"/></g>
<g transform="translate(247.00,686.40)" stroke="#000" stroke-linecap="round" stroke-linejoin="round"><path d="M0.72,0.72 A25.96,25.96 0 0 1 0.72,38.88 A29.17,29.17 0 0 0 0.72,0.72 Z" stroke-width="1.45" fill="#000"/></g>
<g transform="matrix(0,-1,1,0,82.00,886.90)" stroke="#000" stroke-linecap="round" stroke-linejoin="round"><path d="M8.35,1.35 L15.35,19.45 H1.35 Z" stroke-width="1.55" fill="none"/><path d="M8.35,1.35 L1.35,19.45 H15.35" stroke-width="2.70" fill="none"/></g>
<g transform="matrix(0,-1,1,0,81.60,866.70)" stroke="#000" stroke-linecap="round" stroke-linejoin="round"><path d="M3.25,0.78 V20.43" stroke-width="2.70" fill="none"/><path d="M0.78,0.78 H5.72 M0.78,20.43 H5.72" stroke-width="1.55" fill="none"/></g>
<g transform="matrix(0,-1,1,0,78.10,854.70)" stroke="#000" stroke-linecap="round" stroke-linejoin="round"><path d="M7.33,0.78 A19.16,19.16 0 0 0 7.33,29.63 A21.97,21.97 0 0 1 7.33,0.78 Z" stroke-width="1.55" fill="#000"/></g>
<g transform="matrix(0,-1,1,0,82.00,841.90)" stroke="#000" stroke-linecap="round" stroke-linejoin="round"><path d="M2.96,0.78 V20.02" stroke-width="2.70" fill="none"/><path d="M0.78,0.78 H14.83 V6.24 M0.78,20.02 H14.83 V14.56 M2.96,9.98 H9.36 M9.36,6.66 V13.31" stroke-width="1.55" fill="none"/></g>
<g transform="matrix(0,-1,1,0,78.10,822.20)" stroke="#000" stroke-linecap="round" stroke-linejoin="round"><path d="M0.78,0.78 A25.60,25.60 0 0 1 0.78,29.63 A33.18,33.18 0 0 0 0.78,0.78 Z" stroke-width="1.55" fill="#000"/></g>
<g transform="matrix(0,-1,1,0,78.10,808.70)" stroke="#000" stroke-linecap="round" stroke-linejoin="round"><path d="M0.78,29.63 L16.83,0.78" stroke-width="1.55" fill="none"/></g>
<g transform="matrix(0,-1,1,0,82.00,787.10)" stroke="#000" stroke-linecap="round" stroke-linejoin="round"><path d="M2.96,0.78 V20.02" stroke-width="2.70" fill="none"/><path d="M0.78,0.78 H14.83 V6.24 M0.78,20.02 H14.83 V14.56 M2.96,9.98 H9.36 M9.36,6.66 V13.31" stroke-width="1.55" fill="none"/></g>
<g transform="translate(335.80,932.80)" stroke="#000" stroke-linecap="round" stroke-linejoin="round"><path d="M3.15,0.75 V20.75" stroke-width="2.80" fill="none"/><path d="M0.75,0.75 H15.85 V6.45 M0.75,20.75 H15.85 V15.05 M3.15,10.32 H9.96 M9.96,6.88 V13.76" stroke-width="1.50" fill="none"/></g>
<g transform="translate(372.20,929.50)" stroke="#000" stroke-linecap="round" stroke-linejoin="round"><path d="M7.55,0.75 A19.29,19.29 0 0 0 7.55,30.15 A22.39,22.39 0 0 1 7.55,0.75 Z" stroke-width="1.50" fill="#000"/></g>
<g transform="translate(384.70,938.60)" stroke="#000" stroke-linecap="round" stroke-linejoin="round"><path d="M1.40,7.54 H12.45 C12.45,3.77 10.03,0.75 6.60,0.75 C2.64,0.75 1.40,3.45 1.40,8.16 C1.40,12.56 2.90,14.95 7.00,14.95 C9.64,14.95 11.62,14.13 12.45,12.25" stroke-width="1.50" fill="none"/><path d="M3.17,1.88 C1.06,3.92 1.40,5.97 1.40,8.16 C1.40,10.99 1.32,12.87 3.43,14.13" stroke-width="2.80" fill="none"/></g>
<g transform="translate(398.80,932.80)" stroke="#000" stroke-linecap="round" stroke-linejoin="round"><path d="M3.09,0.75 L9.10,20.75" stroke-width="2.80" fill="none"/><path d="M15.11,0.75 L9.10,20.75 M0.75,0.75 H6.19 M12.01,0.75 H17.45" stroke-width="1.50" fill="none"/></g>
<g transform="translate(422.80,929.50)" stroke="#000" stroke-linecap="round" stroke-linejoin="round"><path d="M0.75,0.75 A19.29,19.29 0 0 1 0.75,30.15 A22.39,22.39 0 0 0 0.75,0.75 Z" stroke-width="1.50" fill="#000"/></g>
</svg></body></html>
